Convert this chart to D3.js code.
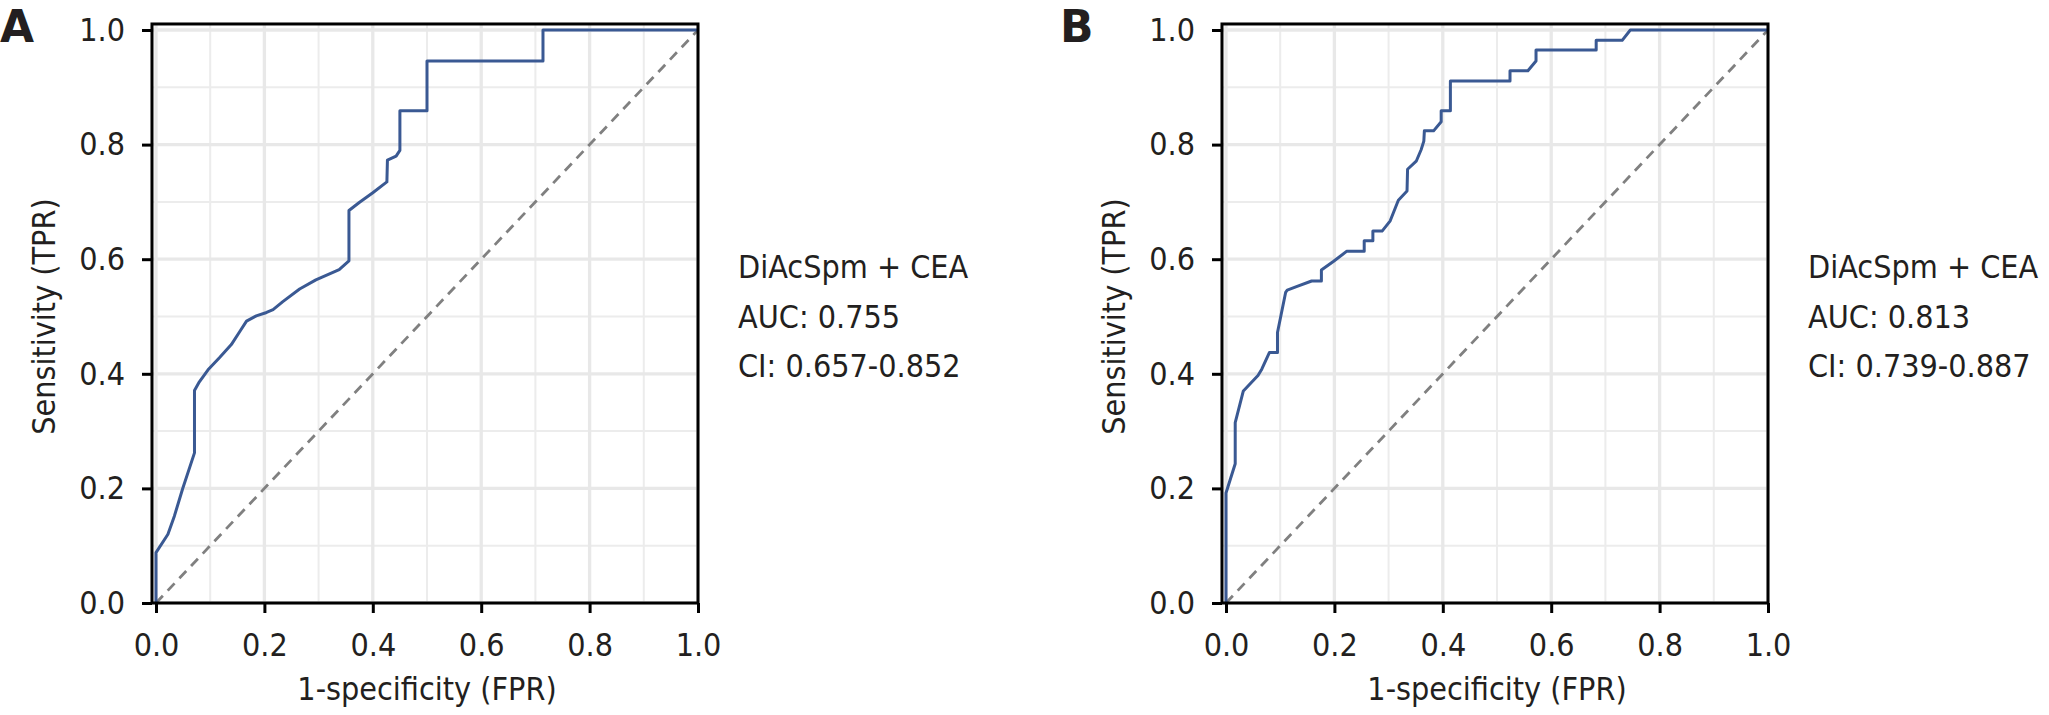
<!DOCTYPE html>
<html>
<head>
<meta charset="utf-8">
<script src="https://cdn.jsdelivr.net/npm/d3@7"></script>
<style>
    body { margin: 0; background: #fff; }
    svg text { font-family: "DejaVu Sans Condensed", "DejaVu Sans", sans-serif; font-stretch: condensed; fill: #231f20; }
</style>
</head>
<body>
<div id="chart"></div>
<script>
// ROC points (1-specificity, sensitivity)
let fprA = [0, 0, 0.022, 0.034, 0.049, 0.071, 0.071, 0.080, 0.096, 0.117, 0.139, 0.154, 0.167, 0.185, 0.204, 0.216,
    0.234, 0.265, 0.295, 0.338, 0.356, 0.356, 0.375, 0.400, 0.426, 0.427, 0.443, 0.450, 0.450, 0.500, 0.500, 0.714, 0.714, 1];
let tprA = [0, 0.088, 0.120, 0.152, 0.199, 0.262, 0.371, 0.386, 0.407, 0.428, 0.451, 0.473, 0.492, 0.501, 0.507, 0.512,
    0.526, 0.548, 0.564, 0.582, 0.597, 0.685, 0.699, 0.716, 0.735, 0.773, 0.780, 0.790, 0.859, 0.859, 0.946, 0.946, 1, 1];

let fprB = [0, 0, 0.017, 0.017, 0.032, 0.059, 0.066, 0.080, 0.095, 0.095, 0.110, 0.113, 0.130, 0.158, 0.176, 0.176,
    0.198, 0.223, 0.255, 0.255, 0.271, 0.271, 0.288, 0.303, 0.318, 0.334, 0.335, 0.351, 0.360, 0.365, 0.366, 0.383,
    0.397, 0.397, 0.414, 0.414, 0.524, 0.524, 0.557, 0.572, 0.572, 0.683, 0.683, 0.731, 0.746, 1];
let tprB = [0, 0.192, 0.243, 0.315, 0.370, 0.397, 0.408, 0.437, 0.437, 0.472, 0.542, 0.546, 0.552, 0.562, 0.562, 0.581,
    0.596, 0.614, 0.614, 0.632, 0.632, 0.649, 0.649, 0.667, 0.703, 0.719, 0.757, 0.771, 0.791, 0.806, 0.824, 0.824,
    0.840, 0.859, 0.859, 0.911, 0.911, 0.929, 0.929, 0.946, 0.965, 0.965, 0.982, 0.982, 1, 1];

let majorTicks = [0, 0.2, 0.4, 0.6, 0.8, 1.0];
let minorTicks = [0.1, 0.3, 0.5, 0.7, 0.9];
let panelLetters = ["A", "B"];
let legendA = ["DiAcSpm + CEA", "AUC: 0.755", "CI: 0.657-0.852"];
let legendB = ["DiAcSpm + CEA", "AUC: 0.813", "CI: 0.739-0.887"];

let svg = d3.select("#chart").append("svg")
    .attr("width", 2049)
    .attr("height", 715);

class rocVis {
    constructor(svg, opts) {
        this.svg = svg;
        this.opts = opts;
        this.initVis();
    }

    initVis() {
        let vis = this;
        let o = vis.opts;

        vis.x = d3.scaleLinear().domain([0, 1]).range([o.left, o.left + 542]);
        vis.y = d3.scaleLinear().domain([0, 1]).range([603, 30]);

        vis.g = vis.svg.append("g");

        // panel frame edges
        let fx0 = vis.x(-0.0074), fx1 = vis.x(1), fy0 = vis.y(1.0105), fy1 = vis.y(0);

        // grid
        vis.g.selectAll(".vminor").data(minorTicks).enter().append("line")
            .attr("x1", d => vis.x(d)).attr("x2", d => vis.x(d))
            .attr("y1", fy0).attr("y2", fy1)
            .attr("stroke", "#ececec").attr("stroke-width", 2);
        vis.g.selectAll(".hminor").data(minorTicks).enter().append("line")
            .attr("y1", d => vis.y(d)).attr("y2", d => vis.y(d))
            .attr("x1", fx0).attr("x2", fx1)
            .attr("stroke", "#ececec").attr("stroke-width", 2);
        vis.g.selectAll(".vmajor").data(majorTicks).enter().append("line")
            .attr("x1", d => vis.x(d)).attr("x2", d => vis.x(d))
            .attr("y1", fy0).attr("y2", fy1)
            .attr("stroke", "#e8e8e8").attr("stroke-width", 3.3);
        vis.g.selectAll(".hmajor").data(majorTicks).enter().append("line")
            .attr("y1", d => vis.y(d)).attr("y2", d => vis.y(d))
            .attr("x1", fx0).attr("x2", fx1)
            .attr("stroke", "#e8e8e8").attr("stroke-width", 3.3);

        // chance line
        vis.g.append("line")
            .attr("x1", vis.x(0)).attr("y1", vis.y(0))
            .attr("x2", vis.x(1)).attr("y2", vis.y(1))
            .attr("stroke", "#808080").attr("stroke-width", 2.8)
            .attr("stroke-dasharray", "10,7");

        // roc curve
        let pts = o.fpr.map((f, i) => [f, o.tpr[i]]);
        vis.g.append("path")
            .datum(pts)
            .attr("fill", "none")
            .attr("stroke", "#3a5993")
            .attr("stroke-width", 3)
            .attr("stroke-linejoin", "round")
            .attr("d", d3.line().x(d => vis.x(d[0])).y(d => vis.y(d[1])));

        // frame
        vis.g.append("rect")
            .attr("x", fx0).attr("y", fy0)
            .attr("width", fx1 - fx0).attr("height", fy1 - fy0)
            .attr("fill", "none").attr("stroke", "#000").attr("stroke-width", 3);

        // axes
        let yAxis = d3.axisLeft(vis.y).tickValues(majorTicks).tickFormat(d3.format(".1f"))
            .tickSize(10).tickPadding(17);
        let xAxis = d3.axisBottom(vis.x).tickValues(majorTicks).tickFormat(d3.format(".1f"))
            .tickSize(10).tickPadding(20);

        let yg = vis.g.append("g").attr("transform", `translate(${fx0},0)`).call(yAxis);
        let xg = vis.g.append("g").attr("transform", `translate(0,${fy1})`).call(xAxis);
        [yg, xg].forEach(a => {
            a.select(".domain").remove();
            a.selectAll("line").attr("stroke", "#000").attr("stroke-width", 3);
            a.selectAll("text").attr("font-size", 32).attr("font-family", null).attr("fill", "#231f20");
        });

        // axis titles
        vis.g.append("text")
            .attr("x", (vis.x(0) + vis.x(1)) / 2).attr("y", 700)
            .attr("text-anchor", "middle").attr("font-size", 32)
            .text("1-specificity (FPR)");
        vis.g.append("text")
            .attr("transform", `translate(${o.left - 101},${(vis.y(0) + vis.y(1)) / 2}) rotate(-90)`)
            .attr("text-anchor", "middle").attr("font-size", 32)
            .text("Sensitivity (TPR)");

        // panel letter
        vis.g.append("text")
            .attr("x", o.letterX).attr("y", 42)
            .attr("font-size", 44).attr("font-weight", "bold")
            .style("font-stretch", "normal")
            .style("font-family", "'DejaVu Sans', sans-serif")
            .text(o.letter);

        // legend text
        vis.g.selectAll(".legend").data(o.legend).enter().append("text")
            .attr("x", vis.x(1) + 40)
            .attr("y", (d, i) => 278 + i * 49.5)
            .attr("font-size", 32)
            .text(d => d);
    }
}

new rocVis(svg, {left: 156, fpr: fprA, tpr: tprA, letter: panelLetters[0], letterX: 0, legend: legendA});
new rocVis(svg, {left: 1226, fpr: fprB, tpr: tprB, letter: panelLetters[1], letterX: 1060, legend: legendB});
</script>
</body>
</html>
